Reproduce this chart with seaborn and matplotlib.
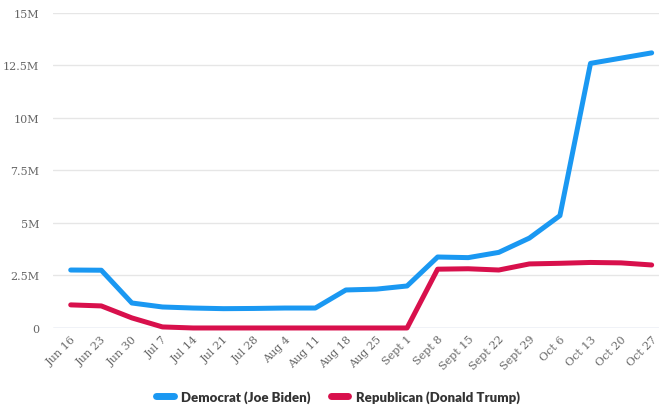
import matplotlib
matplotlib.use("Agg")
import matplotlib.pyplot as plt
import seaborn as sns
import pandas as pd
from matplotlib.lines import Line2D
from matplotlib.ticker import FuncFormatter

weeks = ["Jun 16", "Jun 23", "Jun 30", "Jul 7", "Jul 14", "Jul 21", "Jul 28",
         "Aug 4", "Aug 11", "Aug 18", "Aug 25", "Sept 1", "Sept 8", "Sept 15",
         "Sept 22", "Sept 29", "Oct 6", "Oct 13", "Oct 20", "Oct 27"]
democrat = [2.76, 2.75, 1.19, 1.0, 0.95, 0.92, 0.93, 0.95, 0.95, 1.81,
            1.85, 2.0, 3.38, 3.35, 3.6, 4.28, 5.35, 12.6, 12.85, 13.1]
republican = [1.1, 1.05, 0.48, 0.05, 0.0, 0.0, 0.0, 0.0, 0.0, 0.0,
              0.0, 0.0, 2.8, 2.82, 2.76, 3.05, 3.08, 3.12, 3.1, 3.0]
series_names = ["Democrat (Joe Biden)", "Republican (Donald Trump)"]
series_colors = ["#1a98f2", "#d8104c"]
y_ticks = [0, 2.5, 5, 7.5, 10, 12.5, 15]

df = pd.concat([
    pd.DataFrame({"week": range(len(weeks)), "value": democrat, "party": series_names[0]}),
    pd.DataFrame({"week": range(len(weeks)), "value": republican, "party": series_names[1]}),
])

sns.set_style("white")
fig = plt.figure(figsize=(6.59, 4.06), dpi=100)
ax = fig.add_axes([0.0804, 0.1897, 0.9196, 0.7759])

sns.lineplot(data=df, x="week", y="value", hue="party",
             palette=dict(zip(series_names, series_colors)),
             linewidth=3.6, ax=ax, legend=False, clip_on=False,
             solid_joinstyle="round", solid_capstyle="round", zorder=3)

ax.set_xlim(-0.58, 19.24)
ax.set_ylim(0, 15)
ax.set_xticks(range(len(weeks)))
ax.set_xticklabels(weeks, rotation=45, ha="right", va="top",
                   rotation_mode="anchor", fontsize=8, color="#666666",
                   family="DejaVu Serif")
ax.set_yticks(y_ticks)
ax.yaxis.set_major_formatter(FuncFormatter(lambda v, p: "0" if v == 0 else f"{v:g}M"))
for lbl in ax.get_yticklabels():
    lbl.set_fontsize(8)
    lbl.set_color("#666666")
    lbl.set_family("DejaVu Serif")
ax.tick_params(axis="y", length=0, pad=10)
ax.tick_params(axis="x", length=0, pad=4)
ax.grid(axis="y", color="#e6e6e6", linewidth=1)
ax.set_axisbelow(True)
for s in ax.spines.values():
    s.set_visible(False)
ax.axhline(0, color="#ccd6eb", linewidth=1, zorder=1)
ax.set_xlabel("")
ax.set_ylabel("")

handles = [Line2D([0], [0], color=c, linewidth=5) for c in series_colors]
fig.legend(handles, series_names, loc="lower center", ncol=2,
           bbox_to_anchor=(0.513, -0.025), frameon=False, handlelength=1.3,
           handletextpad=0.6, columnspacing=1.5,
           prop={"family": "Lato", "weight": "heavy", "size": 9.5})
for t in fig.legends[0].get_texts():
    t.set_color("#333333")

fig.savefig("out.png", dpi=100)
